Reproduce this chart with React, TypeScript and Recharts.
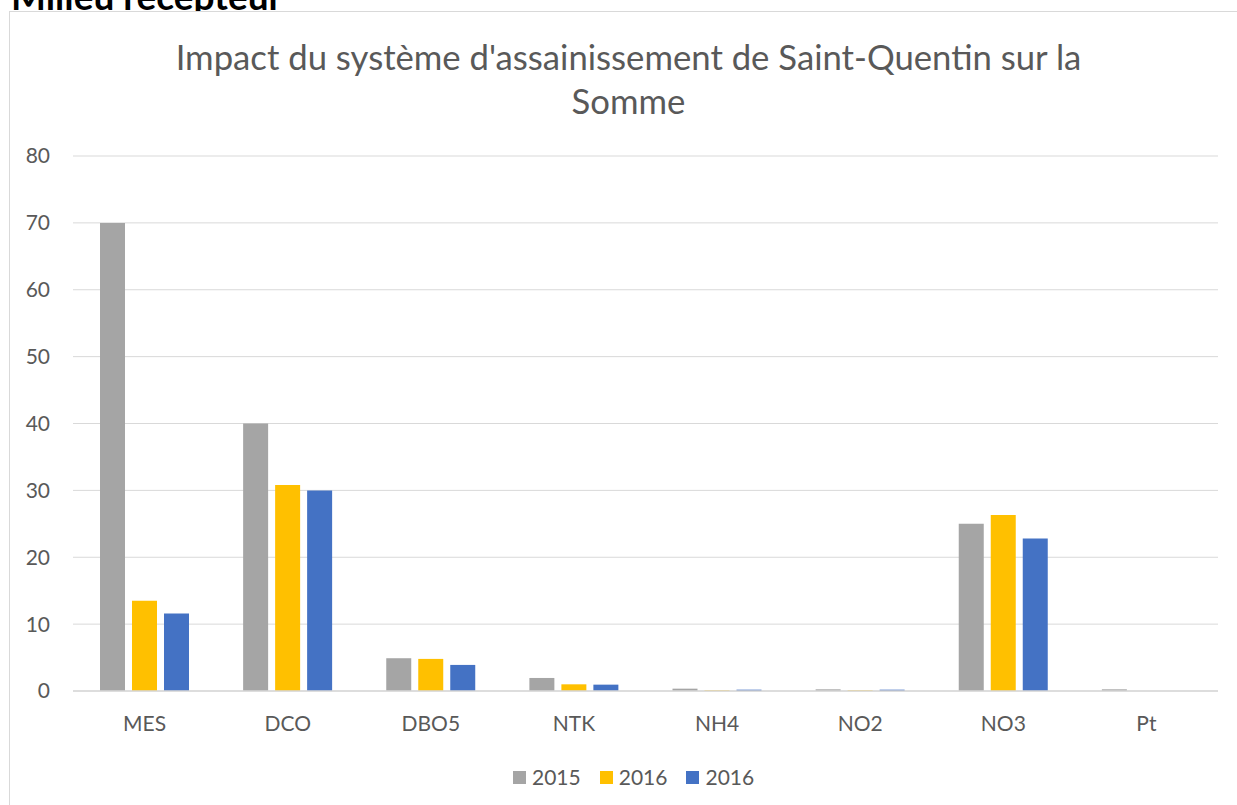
import React from 'react';
import { BarChart, Bar, XAxis, YAxis, CartesianGrid } from 'recharts';

const categories = ['MES', 'DCO', 'DBO5', 'NTK', 'NH4', 'NO2', 'NO3', 'Pt'];
const values2015 = [70, 40, 4.9, 1.95, 0.35, 0.25, 25, 0.25];
const values2016a = [13.5, 30.8, 4.8, 1.0, 0.1, 0.1, 26.3, 0];
const values2016b = [11.6, 30, 3.9, 0.95, 0.2, 0.2, 22.8, 0];
const seriesNames = ['2015', '2016', '2016'];
const seriesColors = ['#A5A5A5', '#FFC000', '#4472C4'];
const yTicks = [0, 10, 20, 30, 40, 50, 60, 70, 80];
const titleLines = ["Impact du système d'assainissement de Saint-Quentin sur la", 'Somme'];
const headingText = 'Milieu récepteur';

const data = categories.map((c, i) => ({
  cat: c,
  s0: values2015[i],
  s1: values2016a[i],
  s2: values2016b[i],
}));

const FONT = 'Lato, "Noto Sans", sans-serif';

export default function App() {
  return (
    <div style={{ position: 'fixed', left: 0, top: 0, width: 1237, height: 805, background: '#fff', overflow: 'hidden', fontFamily: FONT }}>
      <div style={{ position: 'absolute', left: 11, top: -27, fontSize: 37, fontWeight: 700, color: '#000', whiteSpace: 'nowrap', fontFamily: 'Lato, sans-serif' }}>
        {headingText}
      </div>
      <div style={{ position: 'absolute', left: 9, top: 11, width: 1300, height: 900, border: '1px solid #D9D9D9', background: '#fff' }} />
      {titleLines.map((t, i) => (
        <div key={i} style={{ position: 'absolute', left: 0, width: 1257, top: 36 + i * 44, textAlign: 'center', fontSize: 34.7, color: '#595959', whiteSpace: 'nowrap', lineHeight: '42px' }}>
          {t}
        </div>
      ))}
      <div style={{ position: 'absolute', left: 0, top: 0 }}>
        <BarChart
          width={1237}
          height={805}
          data={data}
          margin={{ top: 156, right: 19, bottom: 84, left: 13 }}
          barSize={25}
          barGap={7}
        >
          <CartesianGrid vertical={false} stroke="#D9D9D9" strokeWidth={1} />
          <XAxis
            dataKey="cat"
            height={30}
            tickLine={false}
            axisLine={{ stroke: '#D9D9D9', strokeWidth: 1.5 }}
            tick={{ fill: '#595959', fontSize: 21, fontFamily: FONT }}
            tickSize={0}
            tickMargin={25}
            interval={0}
          />
          <YAxis
            width={60}
            domain={[0, 80]}
            ticks={yTicks}
            axisLine={false}
            tickLine={false}
            tickSize={0}
            tickMargin={23}
            tick={{ fill: '#595959', fontSize: 21, fontFamily: FONT }}
          />
          <Bar dataKey="s0" name={seriesNames[0]} fill={seriesColors[0]} isAnimationActive={false} />
          <Bar dataKey="s1" name={seriesNames[1]} fill={seriesColors[1]} isAnimationActive={false} />
          <Bar dataKey="s2" name={seriesNames[2]} fill={seriesColors[2]} isAnimationActive={false} />
        </BarChart>
      </div>
      <div style={{ position: 'absolute', left: 513, top: 765, display: 'flex', alignItems: 'center', height: 24 }}>
        {seriesNames.map((n, i) => (
          <div key={i} style={{ display: 'flex', alignItems: 'center', marginRight: i < 2 ? 19 : 0 }}>
            <div style={{ width: 13, height: 13, background: seriesColors[i], marginRight: 6 }} />
            <span style={{ fontSize: 21, color: '#595959', lineHeight: '24px' }}>{n}</span>
          </div>
        ))}
      </div>
    </div>
  );
}
